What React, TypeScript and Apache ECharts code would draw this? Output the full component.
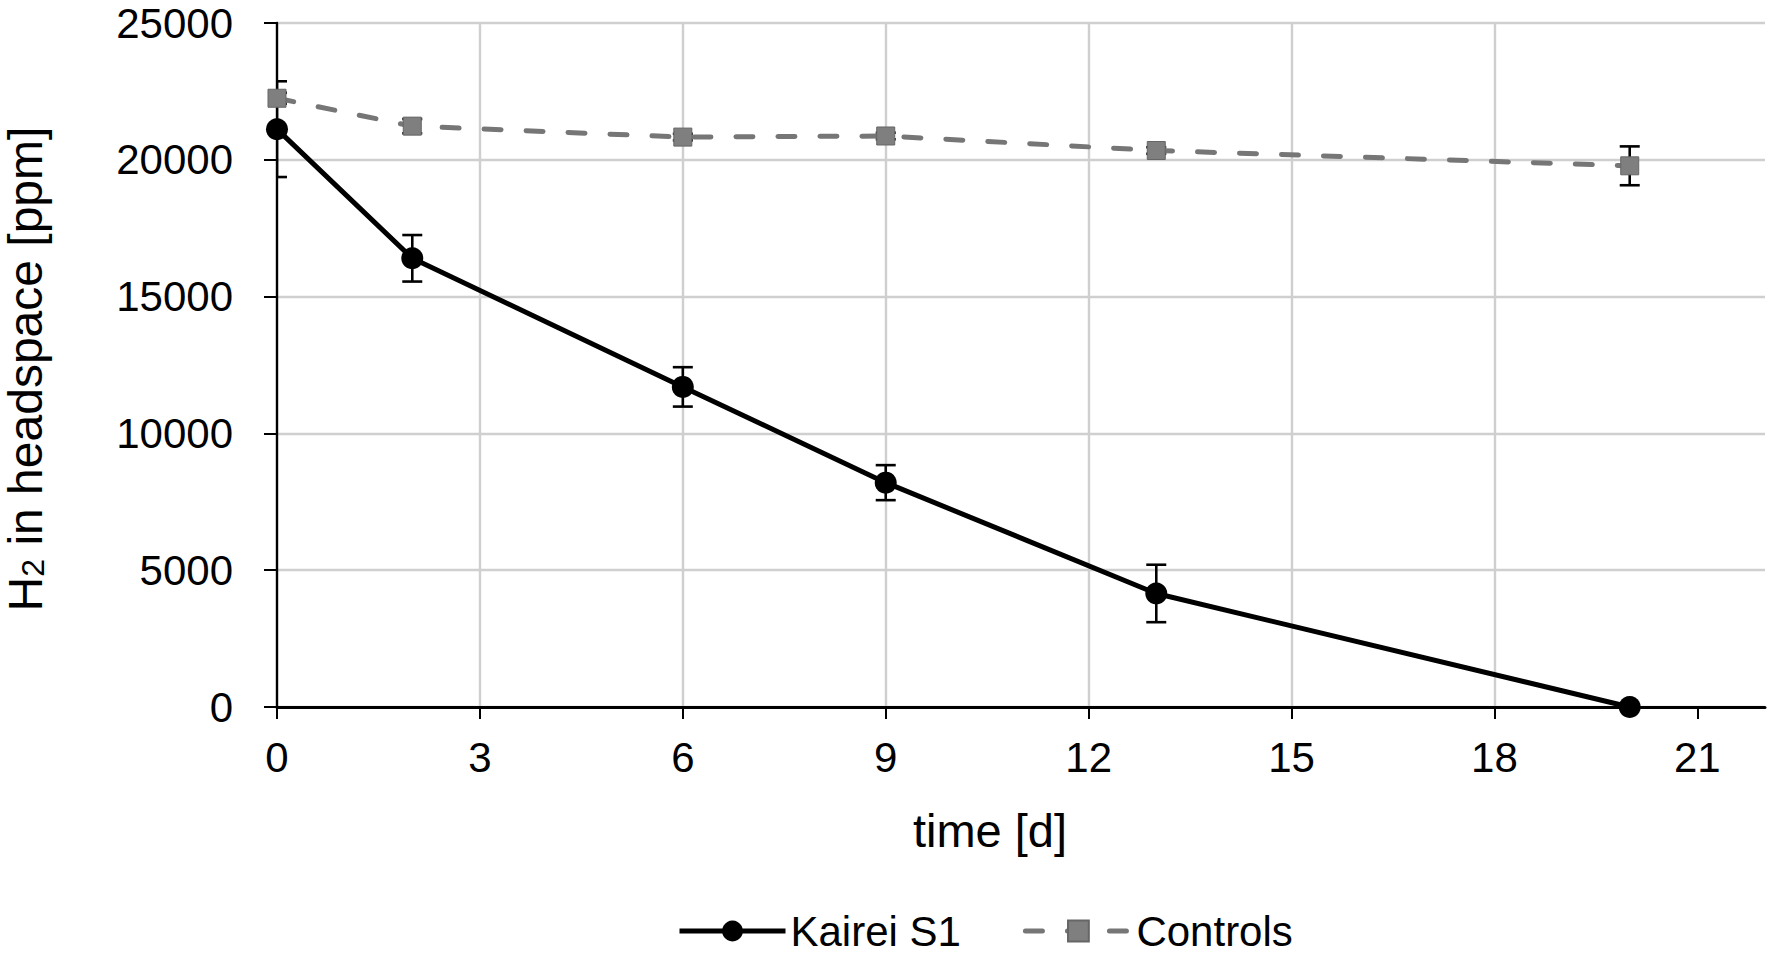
import React, { useEffect, useRef } from "react";
import * as echarts from "echarts";

// ---- data ----
const days = [0, 2, 6, 9, 13, 20];
const kaireiMean = [21120, 16400, 11700, 8200, 4150, 0];
const kaireiErr = [1750, 850, 720, 640, 1050, 0];
const controlsMean = [22250, 21230, 20830, 20870, 20340, 19780];
const controlsErr = [200, 260, 120, 120, 120, 710];
const xTickValues = [0, 3, 6, 9, 12, 15, 18, 21];
const seriesNames = ["Kairei S1", "Controls"];
const yTitleRich = "{a|H}{b|2}{a| in headspace [ppm]}";
const xTitle = "time [d]";

const FONT = "'Liberation Sans', Arial, Helvetica, sans-serif";

function buildErrorData(means: number[], errs: number[]) {
  const out: number[][] = [];
  days.forEach((d, i) => {
    if (errs[i] > 0) out.push([d, means[i] - errs[i], means[i] + errs[i]]);
  });
  return out;
}

const errorRenderItem = (params: any, api: any) => {
  const x = api.value(0);
  const lo = api.coord([x, api.value(1)]);
  const hi = api.coord([x, api.value(2)]);
  const half = 10;
  const style = { stroke: "#000", lineWidth: 2.6 };
  return {
    type: "group",
    children: [
      { type: "line", shape: { x1: lo[0], y1: lo[1], x2: hi[0], y2: hi[1] }, style },
      { type: "line", shape: { x1: lo[0] - half, y1: lo[1], x2: lo[0] + half, y2: lo[1] }, style },
      { type: "line", shape: { x1: hi[0] - half, y1: hi[1], x2: hi[0] + half, y2: hi[1] }, style },
    ],
  };
};

export default function App() {
  const ref = useRef<HTMLDivElement>(null);
  useEffect(() => {
    const chart = echarts.init(ref.current!, null, { renderer: "svg" });
    const option: any = {
      animation: false,
      backgroundColor: "#fff",
      textStyle: { fontFamily: FONT, color: "#000" },
      grid: {
        left: 277,
        right: 7,
        top: 23,
        bottom: 253,
        containLabel: false,
        outerBoundsMode: "none",
      },
      legend: {
        data: seriesNames,
        left: 672,
        top: 905,
        itemWidth: 106,
        itemHeight: 26,
        itemGap: 62,
        lineStyle: { width: 5 },
        textStyle: { fontSize: 42, fontFamily: FONT, color: "#000", lineHeight: 34 },
      },
      xAxis: {
        type: "value",
        min: 0,
        max: 22,
        interval: 3,
        name: xTitle,
        nameLocation: "middle",
        nameGap: 100,
        nameTextStyle: { fontSize: 47, fontFamily: FONT, color: "#000", padding: [0, 62, 0, 0], lineHeight: 47 },
        axisLine: { show: true, onZero: false, lineStyle: { color: "#000", width: 3 } },
        axisTick: { show: true, inside: false, length: 12, customValues: xTickValues, lineStyle: { color: "#000", width: 2 } },
        axisLabel: { fontSize: 42, fontFamily: FONT, color: "#000", margin: 29, lineHeight: 42, customValues: xTickValues },
        splitLine: { show: true, showMinLine: false, showMaxLine: false, lineStyle: { color: "#cfcfcf", width: 2.4 } },
      },
      yAxis: {
        type: "value",
        min: 0,
        max: 25000,
        interval: 5000,
        name: yTitleRich,
        nameLocation: "middle",
        nameRotate: 90,
        nameGap: 228,
        nameTextStyle: {
          fontSize: 48,
          fontFamily: FONT,
          color: "#000",
          padding: [0, 8, 0, 0],
          rich: {
            a: { fontSize: 48, fontFamily: FONT, color: "#000", lineHeight: 48 },
            b: { fontSize: 32, fontFamily: FONT, color: "#000", lineHeight: 24, verticalAlign: "bottom" },
          },
        },
        axisLine: { show: true, lineStyle: { color: "#000", width: 2.4 } },
        axisTick: { show: true, inside: false, length: 13, lineStyle: { color: "#000", width: 2 } },
        axisLabel: {
          fontSize: 42,
          fontFamily: FONT,
          color: "#000",
          margin: 44,
          formatter: (v: number) => String(v),
        },
        splitLine: { show: true, lineStyle: { color: "#cfcfcf", width: 2.4 } },
      },
      series: [
        {
          name: "Kairei S1 error",
          type: "custom",
          renderItem: errorRenderItem,
          clip: true,
          encode: { x: 0, y: [1, 2] },
          data: buildErrorData(kaireiMean, kaireiErr),
          z: 1,
        },
        {
          name: "Controls error",
          type: "custom",
          renderItem: errorRenderItem,
          clip: true,
          encode: { x: 0, y: [1, 2] },
          data: buildErrorData(controlsMean, controlsErr),
          z: 1,
        },
        {
          name: seriesNames[1],
          type: "line",
          data: days.map((d, i) => [d, controlsMean[i]]),
          symbol: "rect",
          symbolSize: 18,
          color: "#7f7f7f",
          itemStyle: { color: "#7f7f7f", borderColor: "#666", borderWidth: 1 },
          lineStyle: { color: "#767676", width: 5, type: [17, 25], cap: "round" },
          z: 3,
        },
        {
          name: seriesNames[0],
          type: "line",
          data: days.map((d, i) => [d, kaireiMean[i]]),
          symbol: "circle",
          symbolSize: 22,
          color: "#000",
          itemStyle: { color: "#000" },
          lineStyle: { color: "#000", width: 5 },
          z: 4,
        },
      ],
    };
    chart.setOption(option);
    return () => chart.dispose();
  }, []);
  return (
    <div
      ref={ref}
      style={{ position: "absolute", left: 0, top: 0, width: 1772, height: 960 }}
    />
  );
}
